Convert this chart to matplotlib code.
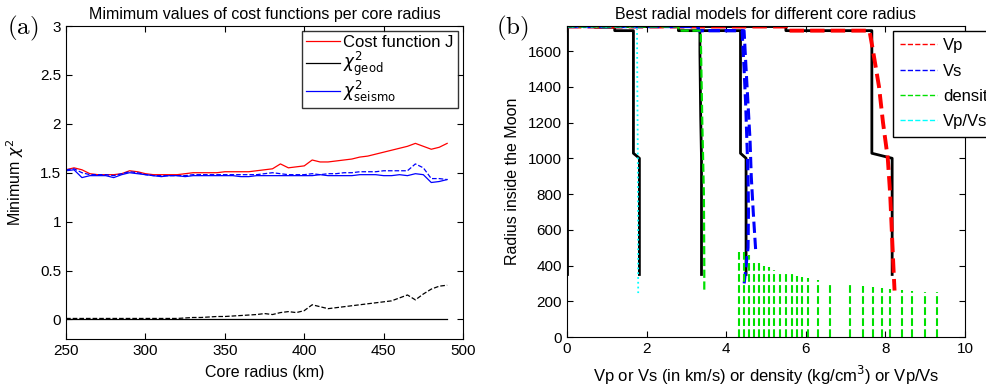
import numpy as np
import matplotlib.pyplot as plt
from matplotlib.lines import Line2D

plt.rcParams['font.family'] = ['Liberation Sans', 'DejaVu Sans']
plt.rcParams['font.size'] = 11

# ---- panel (a): minimum cost per core radius
core_r = np.arange(250, 491, 5)
cost_J = [1.53, 1.55, 1.53, 1.49, 1.48, 1.48, 1.48, 1.49, 1.52, 1.51,
          1.49, 1.48, 1.48, 1.48, 1.48, 1.49, 1.50, 1.50, 1.50, 1.50,
          1.51, 1.51, 1.51, 1.51, 1.52, 1.53, 1.54, 1.59, 1.55, 1.56,
          1.57, 1.63, 1.61, 1.61, 1.62, 1.63, 1.64, 1.66, 1.67, 1.69,
          1.71, 1.73, 1.75, 1.77, 1.80, 1.77, 1.74, 1.76, 1.80]
chi_seismo = [1.52, 1.53, 1.45, 1.47, 1.47, 1.47, 1.45, 1.48, 1.50, 1.49,
              1.48, 1.47, 1.46, 1.47, 1.47, 1.46, 1.47, 1.47, 1.47, 1.47,
              1.47, 1.47, 1.46, 1.46, 1.47, 1.47, 1.47, 1.47, 1.47, 1.47,
              1.47, 1.47, 1.48, 1.47, 1.47, 1.47, 1.47, 1.48, 1.48, 1.48,
              1.47, 1.47, 1.48, 1.47, 1.49, 1.48, 1.40, 1.41, 1.43]
chi_seismo_2 = [1.53, 1.54, 1.50, 1.48, 1.48, 1.48, 1.47, 1.49, 1.51, 1.50,
                1.48, 1.47, 1.47, 1.47, 1.47, 1.47, 1.48, 1.48, 1.48, 1.48,
                1.48, 1.48, 1.48, 1.48, 1.48, 1.49, 1.50, 1.49, 1.48, 1.48,
                1.48, 1.49, 1.48, 1.49, 1.49, 1.50, 1.50, 1.51, 1.51, 1.51,
                1.52, 1.52, 1.52, 1.52, 1.59, 1.55, 1.44, 1.44, 1.43]
chi_geod = [0.005] * 49
chi_geod_2 = [0.01, 0.01, 0.01, 0.01, 0.01, 0.01, 0.01, 0.01, 0.01, 0.01,
              0.01, 0.01, 0.01, 0.01, 0.01, 0.015, 0.02, 0.02, 0.025, 0.03,
              0.03, 0.035, 0.04, 0.045, 0.05, 0.06, 0.05, 0.07, 0.08, 0.07,
              0.09, 0.15, 0.13, 0.11, 0.12, 0.13, 0.14, 0.15, 0.16, 0.17,
              0.18, 0.19, 0.22, 0.25, 0.20, 0.26, 0.31, 0.34, 0.35]

# ---- panel (b): radial models (value, radius in km)
best_vp = [0, 5.5, 5.5, 7.66, 7.66, 8.17, 8.17]
best_vs = [0, 3.3, 3.3, 4.36, 4.36, 4.50, 4.50]
best_r = [1737, 1737, 1714, 1714, 1028, 1000, 350]
best_rho = [0, 2.8, 2.8, 3.34, 3.34, 3.36, 3.38, 3.38]
best_rho_r = [1737, 1737, 1714, 1714, 1600, 1230, 1000, 350]
best_vpvs = [0, 0.7, 0.7, 1.2, 1.2, 1.67, 1.67, 1.82, 1.82]
best_vpvs_r = [1737, 1737, 1733, 1733, 1714, 1714, 1028, 1000, 350]
best_zero = [0, 0]
best_zero_r = [1737, 355]

vp_model = [0, 5.5, 5.5, 7.60, 7.69, 7.84, 7.94, 8.06, 8.12, 8.16, 8.20, 8.23]
vp_model_r = [1737, 1737, 1714, 1714, 1600, 1400, 1200, 1000, 800, 600, 400, 260]
vs_model_a = [0, 3.3, 3.3, 4.45, 4.50, 4.55, 4.60, 4.63, 4.68, 4.74]
vs_model_a_r = [1737, 1737, 1714, 1714, 1500, 1300, 1100, 900, 700, 490]
vs_model_b = [0, 3.3, 3.3, 4.40, 4.45, 4.49, 4.52, 4.55, 4.56, 4.55, 4.45]
vs_model_b_r = [1737, 1737, 1714, 1714, 1500, 1300, 1100, 900, 700, 500, 295]
rho_model = [0, 2.8, 2.8, 3.36, 3.40, 3.44, 3.45, 3.45]
rho_model_r = [1737, 1737, 1714, 1714, 1200, 800, 400, 246]
vpvs_model = [0, 1.76, 1.76, 1.78, 1.79]
vpvs_model_r = [1737, 1737, 1714, 1000, 246]

core_rho = [4.31, 4.45, 4.58, 4.71, 4.83, 4.95, 5.08, 5.21, 5.35, 5.50, 5.65, 5.77,
            5.91, 6.06, 6.31, 6.61, 7.11, 7.45, 7.70, 7.91, 8.12, 8.41, 8.66, 9.00, 9.29]
core_top = [490, 475, 460, 430, 415, 400, 390, 375, 368, 360, 350, 342,
            337, 330, 320, 305, 292, 287, 282, 275, 270, 263, 258, 253, 250]

fig = plt.figure(figsize=(9.86, 3.91), dpi=100)

ax1 = fig.add_axes([0.067, 0.133, 0.4026, 0.8005])
ax1.plot(core_r, cost_J, color='r', lw=0.9, label='Cost function J')
ax1.plot(core_r, chi_geod, color='k', lw=0.9, label=r'$\chi^2_{\mathrm{geod}}$')
ax1.plot(core_r, chi_seismo, color='b', lw=0.9, label=r'$\chi^2_{\mathrm{seismo}}$')
ax1.plot(core_r, chi_geod_2, color='k', lw=0.9, ls='--')
ax1.plot(core_r, chi_seismo_2, color='b', lw=0.9, ls='--')
ax1.set_xlim(250, 500)
ax1.set_ylim(-0.2, 3)
ax1.set_xticks(range(250, 501, 50))
ax1.set_yticks([0, 0.5, 1, 1.5, 2, 2.5, 3])
ax1.set_yticklabels(['0', '0.5', '1', '1.5', '2', '2.5', '3'])
ax1.set_xlabel('Core radius (km)', fontsize=11.5, labelpad=5)
ax1.set_ylabel(r'Minimum $\chi^2$', fontsize=11.5, labelpad=10)
ax1.set_title('Mimimum values of cost functions per core radius', fontsize=11.5, pad=5)
ax1.tick_params(direction='in', top=True, right=True, length=4)
leg1 = ax1.legend(loc='upper left', bbox_to_anchor=(0.595, 0.985), fontsize=12,
                  frameon=True, fancybox=False, edgecolor='k', handlelength=2.0,
                  handletextpad=0.2, labelspacing=0.02, borderaxespad=0, borderpad=0.25)
leg1.get_frame().set_linewidth(1.0)

ax2 = fig.add_axes([0.575, 0.138, 0.4037, 0.7955])
# best model
ax2.plot(best_zero, best_zero_r, color='k', lw=2)
ax2.plot(best_vp, best_r, color='k', lw=2)
ax2.plot(best_vs, best_r, color='k', lw=2)
ax2.plot(best_rho, best_rho_r, color='k', lw=2)
ax2.plot(best_vpvs, best_vpvs_r, color='k', lw=2)
# models for the different core radii
ax2.plot(vp_model, vp_model_r, color='r', lw=2.8, ls='--')
ax2.plot(vs_model_a, vs_model_a_r, color='b', lw=2.2, ls='--')
ax2.plot(vs_model_b, vs_model_b_r, color='b', lw=2.2, ls='--')
ax2.plot(rho_model, rho_model_r, color='#00e000', lw=1.6, ls='--')
ax2.plot(vpvs_model, vpvs_model_r, color='cyan', lw=1.3, ls=':')
for rho, top in zip(core_rho, core_top):
    ax2.plot([rho, rho], [0, top], color='#00e000', lw=1.5, ls='--')

ax2.set_xlim(0, 10)
ax2.set_ylim(0, 1740)
ax2.set_xticks(range(0, 11, 2))
ax2.set_yticks(range(0, 1601, 200))
ax2.set_xlabel(r'Vp or Vs (in km/s) or density (kg/cm$^3$) or Vp/Vs', fontsize=12, labelpad=6)
ax2.set_ylabel('Radius inside the Moon', fontsize=11.5, labelpad=6)
ax2.set_title('Best radial models for different core radius', fontsize=11.5, pad=5)
ax2.tick_params(direction='in', top=True, right=True, length=4)
handles = [Line2D([], [], color='r', ls='--', lw=1),
           Line2D([], [], color='b', ls='--', lw=1),
           Line2D([], [], color='#00e000', ls='--', lw=1),
           Line2D([], [], color='cyan', ls='--', lw=1)]
leg2 = ax2.legend(handles, ['Vp', 'Vs', 'density', 'Vp/Vs'], loc='upper left',
                  bbox_to_anchor=(0.819, 0.985), fontsize=12, frameon=True,
                  fancybox=False, edgecolor='k', handlelength=2.2, handletextpad=0.35,
                  labelspacing=0.62, borderaxespad=0, borderpad=0.45, framealpha=1)
leg2.get_frame().set_linewidth(1.0)

fig.text(0.007, 0.912, r'$\mathrm{(a)}$', fontsize=18, math_fontfamily='cm')
fig.text(0.503, 0.912, r'$\mathrm{(b)}$', fontsize=18, math_fontfamily='cm')

fig.savefig('out.png', dpi=100)
